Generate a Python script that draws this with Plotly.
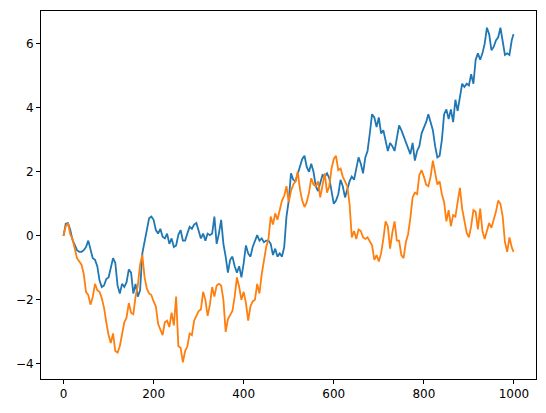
import plotly.graph_objects as go

steps = list(range(0, 1000, 5)) + [999]

blue = [0, 0.38, 0.4, 0.18, -0.13, -0.3, -0.45, -0.5, -0.5, -0.45,
        -0.35, -0.15, -0.4, -0.7, -0.75, -0.95, -1.4, -1.6, -1.55, -1.35,
        -1.3, -0.95, -0.7, -0.85, -1.55, -1.8, -1.5, -1.6, -1.45, -1.05,
        -1.15, -1.8, -1.5, -1.9, -1.7, -0.55, -0.15, 0.18, 0.55, 0.6,
        0.5, 0.18, 0.07, 0.22, -0.03, -0.08, 0.07, -0.25, -0.08, -0.35,
        -0.3, 0.03, 0.18, -0.15, -0.15, 0.07, 0.28, 0.22, 0.35, 0.4,
        0.12, -0.08, 0.07, -0.15, 0.07, 0.02, 0.07, 0.6, -0.25, 0.07,
        0.5, -0.25, -0.65, -1.15, -0.75, -0.65, -0.95, -1.15, -0.95, -1.3,
        -0.85, -0.3, -0.55, -0.65, -0.35, -0.15, 0.02, -0.15, -0.08, -0.2,
        -0.15, -0.15, -0.25, -0.6, -0.4, -0.65, -0.55, -0.65, -0.35, 0.6,
        1.1, 1.95, 1.75, 1.7, 1.95, 2.15, 2.4, 2.5, 2.15, 2.0,
        2.25, 2.0, 1.55, 1.4, 1.7, 1.9, 1.85, 1.95, 1.8, 1.4,
        1.0, 1.1, 1.3, 1.75, 1.55, 1.2, 1.45, 1.7, 1.85, 1.75,
        2.1, 2.45, 2.25, 1.95, 2.45, 2.65, 3.2, 3.8, 3.7, 3.4,
        3.7, 3.2, 3.3, 3.0, 2.65, 2.9, 2.8, 2.65, 3.0, 3.45,
        3.3, 3.1, 2.9, 2.75, 2.55, 2.9, 2.35, 2.65, 2.8, 3.2,
        3.35, 3.55, 3.8, 3.5, 3.3, 2.8, 2.45, 2.5, 3.0, 3.8,
        3.95, 3.65, 3.95, 3.55, 4.25, 3.9, 4.35, 4.75, 4.65, 4.75,
        4.7, 5.05, 4.75, 5.5, 5.7, 5.5, 5.7, 6.0, 6.5, 6.3,
        5.8, 5.9, 6.1, 6.2, 6.5, 6.0, 5.65, 5.7, 5.65, 6.1, 6.3]

orange = [0, 0.3, 0.4, 0.05, -0.1, -0.45, -0.7, -0.8, -0.9, -1.2,
          -1.75, -1.85, -2.15, -1.9, -1.5, -1.7, -1.75, -1.95, -2.25, -2.7,
          -3.1, -3.35, -3.05, -3.6, -3.65, -3.45, -3.05, -2.7, -2.55, -2.1,
          -2.4, -2.45, -1.9, -1.55, -0.9, -0.6, -1.3, -1.65, -1.8, -1.85,
          -2.05, -2.2, -2.75, -2.9, -3.1, -2.7, -2.65, -2.85, -2.4, -2.8,
          -1.9, -3.45, -3.5, -3.95, -3.6, -3.45, -3.05, -3.1, -2.65, -2.5,
          -2.35, -2.3, -1.75, -2.0, -2.5, -2.15, -1.6, -1.9, -1.55, -1.5,
          -1.55, -2.0, -3.0, -2.6, -2.45, -2.35, -1.9, -1.3, -1.6, -2.0,
          -1.75, -2.1, -2.65, -2.2, -2.05, -2.0, -1.5, -1.8, -1.2, -0.8,
          -0.35, -0.1, 0.6, 0.35, 0.7, 0.5, 0.85, 1.1, 1.25, 1.55,
          1.05, 1.4, 1.6, 1.7, 2.0, 1.45, 1.1, 0.9, 1.05, 1.35,
          1.8, 1.6, 1.55, 1.7, 1.2, 1.6, 1.95, 1.35, 1.55, 2.1,
          2.4, 2.5, 2.05, 2.1, 1.85, 1.7, 1.55, 1.0, -0.05, 0.15,
          -0.1, 0.2, 0.15, -0.05, -0.1, -0.05, -0.2, -0.3, -0.75, -0.6,
          -0.8, -0.55, -0.1, 0.45, 0.3, -0.4, 0.1, 0.45, -0.15, -0.15,
          -0.6, -0.7, -0.2, 0.05, 0.55, 1.2, 1.35, 1.3, 1.9, 2.05,
          1.85, 1.6, 1.55, 1.85, 2.35, 1.95, 1.6, 1.7, 1.3, 1.05,
          0.45, 0.8, 0.3, 0.65, 0.6, 1.05, 1.5, 0.85, 0.5, 0.1,
          -0.05, 0.3, 0.8, 0.75, 0.2, 0.85, 0.15, -0.1, 0.15, 0.4,
          0.25, 0.5, 0.75, 1.1, 1.0, 0.6, -0.2, -0.5, -0.05, -0.35, -0.5]

xticks = [0, 200, 400, 600, 800, 1000]
yticks = [-4, -2, 0, 2, 4, 6]

fig = go.Figure()
fig.add_trace(go.Scatter(x=steps, y=blue, mode="lines",
                         line=dict(color="#1f77b4", width=1.8)))
fig.add_trace(go.Scatter(x=steps, y=orange, mode="lines",
                         line=dict(color="#ff7f0e", width=1.8)))

xmin, xmax = min(steps), max(steps)
xm = 0.05 * (xmax - xmin)
allv = blue + orange
ymin, ymax = min(allv), max(allv)
ym = 0.05 * (ymax - ymin)

axis_common = dict(showgrid=False, zeroline=False, showline=True, mirror=True,
                   linecolor="black", linewidth=1, ticks="outside", ticklen=4,
                   tickwidth=1, tickcolor="black",
                   tickfont=dict(family="DejaVu Sans", size=12, color="black"))

fig.update_layout(
    width=546, height=413,
    margin=dict(l=41, r=10, t=11, b=34),
    paper_bgcolor="white", plot_bgcolor="white",
    showlegend=False,
    xaxis=dict(range=[xmin - xm, xmax + xm], tickvals=xticks, **axis_common),
    yaxis=dict(range=[ymin - ym, ymax + ym], tickvals=yticks, **axis_common),
)

fig.write_html("out.html",
               config={"displayModeBar": False},
               post_script="document.body.style.margin='0';document.body.style.overflow='hidden';")
